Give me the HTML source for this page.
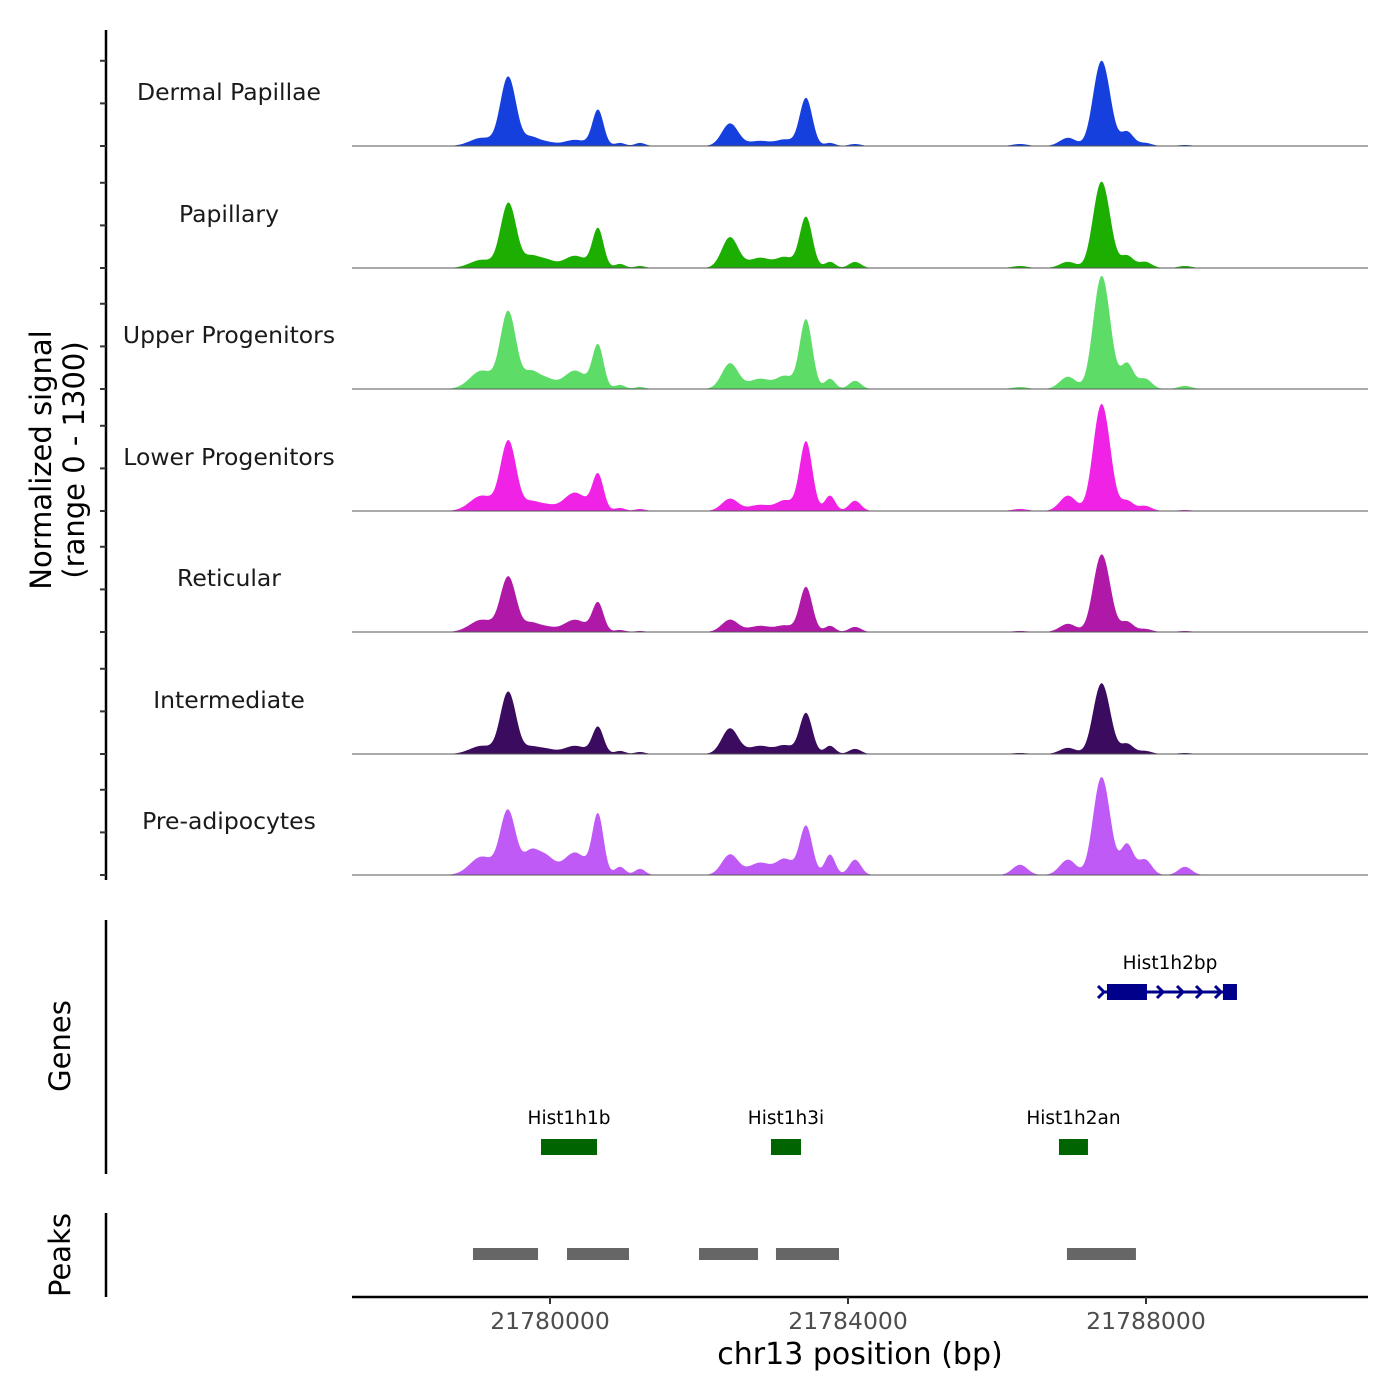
<!DOCTYPE html>
<html><head><meta charset="utf-8"><style>
body{margin:0;background:#fff;}
svg{display:block;font-family:"DejaVu Sans","Liberation Sans",sans-serif;}
</style></head><body>
<svg id="chart" width="1400" height="1400" viewBox="0 0 1400 1400">
<rect width="1400" height="1400" fill="#fff"/>
<g id="tracks"></g>
<g id="yaxis"></g>
<text x="56" y="460" font-size="29" text-anchor="middle" transform="rotate(-90 56 460)" fill="#000"><tspan x="56" dy="-5">Normalized signal</tspan><tspan x="56" dy="33">(range 0 - 1300)</tspan></text>
<line x1="106" y1="920" x2="106" y2="1174" stroke="#000" stroke-width="2.5"/>
<text x="70" y="1046" font-size="29" text-anchor="middle" transform="rotate(-90 70 1046)">Genes</text>
<g id="genes"></g>
<line x1="106" y1="1213" x2="106" y2="1297" stroke="#000" stroke-width="2.5"/>
<text x="70" y="1255" font-size="29" text-anchor="middle" transform="rotate(-90 70 1255)">Peaks</text>
<g id="peaks"></g>
<line x1="352" y1="1297" x2="1368" y2="1297" stroke="#000" stroke-width="2.5"/>
<g id="xaxis"></g>
<text x="860" y="1364" font-size="30" text-anchor="middle" fill="#000">chr13 position (bp)</text>
</svg>
<script>
const regionStart = 21777342, regionEnd = 21790980;
const xTicks = [21780000, 21784000, 21788000];
const trackNames = ["Dermal Papillae","Papillary","Upper Progenitors","Lower Progenitors","Reticular","Intermediate","Pre-adipocytes"];
const trackColors = ["#1640de","#1caf02","#5ddd68","#f022e6","#b019a8","#3a0b5f","#c05af6"];
const peakCenters = [21779087,21779396,21779490,21779731,21779933,21780335,21780644,21780939,21781208,21782416,21782819,21783154,21783436,21783758,21784094,21786308,21786953,21787355,21787463,21787745,21787986,21788523];
const peakWidths = [160,90,90,100,120,150,75,70,70,110,150,110,85,70,80,100,110,95,95,85,90,90];
const sigDermal = [96,490,435,96,48,72,420,36,36,264,60,72,564,36,24,24,96,620,555,168,36,12];
const sigPapillary = [96,435,435,120,96,144,456,48,24,360,120,120,600,72,72,24,72,635,555,144,72,24];
const sigUpper = [216,540,490,180,120,216,504,48,24,300,120,144,816,120,96,24,144,810,750,300,120,36];
const sigLower = [180,475,460,96,72,216,420,36,24,144,72,120,816,180,120,24,180,775,700,120,60,12];
const sigReticular = [144,380,355,96,60,144,336,24,12,144,72,72,528,72,60,12,96,555,515,120,36,12];
const sigIntermediate = [96,435,395,72,60,96,312,36,24,300,96,96,480,96,60,12,72,515,460,120,36,12];
const sigPreadipo = [216,475,380,240,216,264,696,96,72,240,144,180,576,240,180,120,180,715,635,360,180,96];
const signals = [sigDermal,sigPapillary,sigUpper,sigLower,sigReticular,sigIntermediate,sigPreadipo];
const geneNames = ["Hist1h2bp","Hist1h1b","Hist1h3i","Hist1h2an"];
const geneStarts = [21787423,21779879,21782966,21786832];
const geneEnds = [21789221,21780631,21783369,21787221];
const geneRows = [0,1,1,1];
const exonStarts = [21787476,21789033];
const exonEnds = [21788013,21789221];
const peakStarts = [21778966,21780228,21782000,21783033,21786939];
const peakEnds = [21779839,21781060,21782792,21783879,21787865];

const NS="http://www.w3.org/2000/svg";
const X0=352,X1=1368;
function xs(bp){return X0+(bp-regionStart)/(regionEnd-regionStart)*(X1-X0);}
const baselines=[146,268,389,511,632,754,875];
const trackH=110.8;
function ys(v,b){return b-v/1300*trackH;}
function mk(tag,attrs,parent){const e=document.createElementNS(NS,tag);for(const k in attrs)e.setAttribute(k,attrs[k]);parent.appendChild(e);return e;}

const tg=document.getElementById('tracks');
signals.forEach((sig,i)=>{
  const b=baselines[i];
  const g=mk('g',{},tg);
  
  
  let d='M'+X0+','+b;
  for(let x=X0;x<=X1;x+=1){
    const bp=regionStart+(x-X0)/(X1-X0)*(regionEnd-regionStart);
    let v=0;
    for(let k=0;k<peakCenters.length;k++){const z=(bp-peakCenters[k])/peakWidths[k];v+=sig[k]*Math.exp(-0.5*z*z);}
    d+=' L'+x+','+ys(v,b).toFixed(2);
  }
  d+=' L'+X1+','+b+' Z';
  const p=mk('path',{d:d,fill:trackColors[i]},g);
  
  
  const l=mk('line',{x1:X0,x2:X1,y1:b,y2:b,stroke:'#555','stroke-width':1},g);
  
  
  const t=mk('text',{x:229,y:b-46,'font-size':23.5,'text-anchor':'middle',fill:'#1a1a1a'},g);
  t.textContent=trackNames[i];
  
  
});

const ya=document.getElementById('yaxis');
const al=mk('line',{x1:106,x2:106,y1:30,y2:880,stroke:'#000','stroke-width':2.5},ya);


baselines.forEach(b=>{
  [0,500,1000].forEach(v=>{
    const y=ys(v,b);
    const tk=mk('line',{x1:100,x2:106,y1:y,y2:y,stroke:'#333','stroke-width':2},ya);
    
    
  });
});

const gg=document.getElementById('genes');
geneNames.forEach((n,i)=>{
  const y=geneRows[i]===0?992:1147;
  const col=geneRows[i]===0?'#00008b':'#006400';
  const x1=xs(geneStarts[i]),x2=xs(geneEnds[i]);
  const t=mk('text',{x:(x1+x2)/2,y:y-23,'font-size':18.5,'text-anchor':'middle',fill:'#000'},gg);
  t.textContent=n;
  
  
  if(geneRows[i]===0){
    const ln=mk('line',{x1:x1,x2:x2,y1:y,y2:y,stroke:col,'stroke-width':3},gg);
    
    
    for(let k=0;k<exonStarts.length;k++){
      const r=mk('rect',{x:xs(exonStarts[k]),y:y-8,width:xs(exonEnds[k])-xs(exonStarts[k]),height:16,fill:col},gg);
      
      
    }
    [1101,1160,1180,1199,1218].forEach(ax=>{
      const a=mk('path',{d:`M${ax-3},${y-6} L${ax+3},${y} L${ax-3},${y+6}`,stroke:col,'stroke-width':3,fill:'none'},gg);
      
      
    });
  } else {
    const r=mk('rect',{x:x1,y:y-8,width:x2-x1,height:16,fill:col},gg);
    
    
  }
});

const pg=document.getElementById('peaks');
peakStarts.forEach((s,i)=>{
  const r=mk('rect',{x:xs(s),y:1248,width:xs(peakEnds[i])-xs(s),height:12,fill:'#666'},pg);
  
  
});

const xa=document.getElementById('xaxis');
xTicks.forEach(v=>{
  const x=xs(v);
  const tk=mk('line',{x1:x,x2:x,y1:1297,y2:1304,stroke:'#333','stroke-width':2},xa);
  
  
  const t=mk('text',{x:x,y:1329,'font-size':23.5,'text-anchor':'middle',fill:'#4d4d4d'},xa);
  t.textContent=v;
  
  
});
</script>
</body></html>
